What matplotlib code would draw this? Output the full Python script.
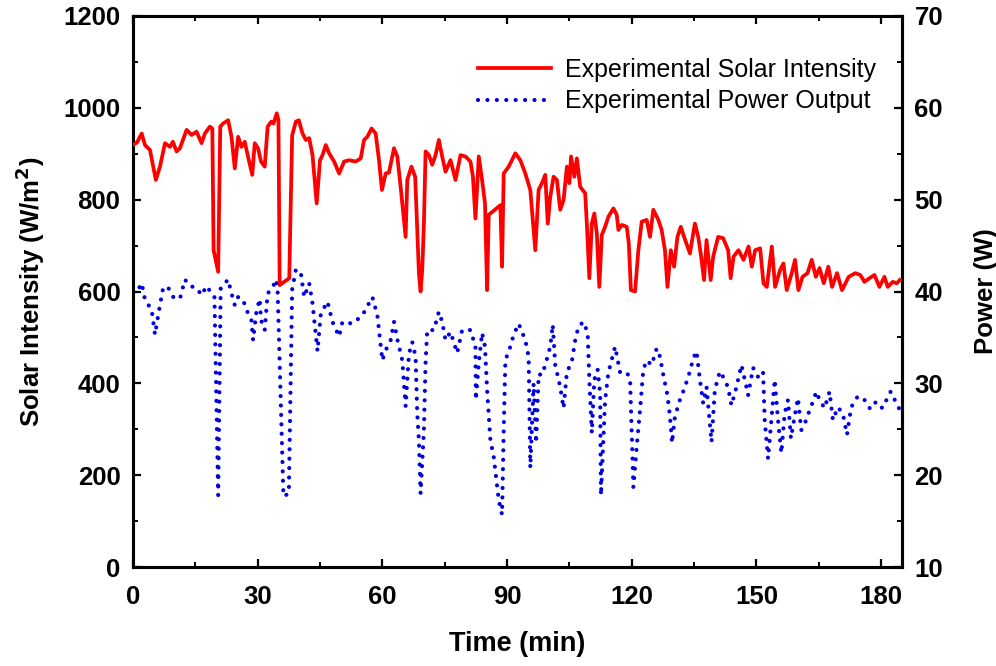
import matplotlib
matplotlib.use("Agg")
import matplotlib.pyplot as plt
from matplotlib.ticker import MultipleLocator

plt.rcParams['font.family'] = ['Liberation Sans', 'DejaVu Sans']

# solar intensity (W/m2) vs time (min)
time_si = [0, 1.0, 2.1, 2.9, 4.1, 5.5, 6.5, 7.7, 8.9, 9.6, 10.5, 11.3, 12.9, 14.1, 15.3,
           16.5, 17.3, 18.5, 19.1, 19.4, 20.5, 21.0, 21.7, 22.9, 23.7, 24.5, 25.3, 26.1,
           26.9, 27.6, 28.7, 29.3, 30.1, 30.8, 31.7, 32.4, 33.3, 33.8, 34.6, 35.0, 35.3,
           37.6, 38.3, 39.2, 39.9, 40.8, 41.6, 42.4, 43.2, 44.2, 45.0, 45.6, 46.4, 47.2,
           48.4, 49.6, 50.8, 52.0, 53.6, 54.8, 55.6, 56.4, 57.4, 58.4, 59.2, 59.9, 60.8,
           61.6, 62.8, 63.6, 64.4, 65.6, 66.0, 67.0, 67.9, 68.4, 68.8, 69.2, 69.6, 70.0,
           70.4, 71.2, 72.0, 72.8, 73.6, 74.4, 75.2, 76.4, 77.6, 78.8, 80.0, 81.2, 81.8,
           82.4, 83.2, 84.0, 84.7, 85.2, 85.6, 88.4, 88.8, 89.2, 90.4, 92.0, 93.2, 94.4,
           95.6, 96.8, 97.6, 98.4, 99.2, 99.8, 100.4, 101.2, 102.0, 102.8, 103.6, 104.4,
           105.0, 105.4, 106.2, 106.8, 107.6, 108.8, 109.2, 109.8, 110.4, 111.0, 111.6,
           112.2, 112.8, 113.6, 114.4, 115.6, 116.4, 116.8, 117.6, 118.8, 119.3, 119.8,
           120.8, 121.6, 122.4, 123.6, 124.4, 125.2, 126.4, 127.2, 128.0, 128.6, 129.4,
           130.2, 131.0, 131.8, 132.6, 134.0, 135.2, 136.0, 136.6, 137.4, 138.0, 139.0,
           139.6, 140.8, 142.0, 143.2, 143.8, 144.5, 145.7, 146.9, 148.1, 148.9, 149.7,
           150.9, 151.7, 152.5, 153.7, 154.5, 155.7, 156.5, 157.3, 158.5, 159.3, 160.1,
           161.1, 162.3, 163.3, 164.3, 165.2, 166.2, 167.3, 168.2, 169.4, 170.6, 172.2,
           173.8, 175.0, 176.0, 177.2, 178.4, 179.6, 180.8, 181.6, 182.8, 183.8, 184.5]
solar = [919, 925, 944, 919, 908, 843, 872, 923, 915, 926, 905, 912, 952, 941, 948,
         923, 944, 959, 955, 690, 643, 959, 966, 973, 937, 868, 937, 915,
         926, 897, 854, 923, 912, 883, 872, 959, 970, 966, 988, 973, 614,
         629, 940, 970, 973, 944, 930, 934, 897, 792, 886, 897, 919, 901,
         883, 857, 883, 886, 883, 890, 930, 937, 955, 944, 886, 821, 857,
         859, 912, 894, 828, 719, 843, 872, 850, 734, 640, 600, 647, 748,
         905, 897, 876, 897, 930, 894, 861, 886, 843, 897, 894, 883, 850,
         759, 894, 843, 792, 603, 767, 788, 654, 857, 872, 901, 886, 857,
         821, 690, 821, 836, 854, 748, 806, 850, 843, 778, 799, 872,
         836, 894, 850, 890, 828, 814, 748, 629, 748, 770, 727,
         610, 723, 741, 763, 781, 767, 734, 745, 741, 705, 603,
         600, 690, 752, 756, 719, 778, 756, 734, 690, 610, 690,
         654, 719, 741, 719, 683, 748, 719, 683, 625, 712, 625,
         676, 719, 716, 690, 629, 676, 690, 669, 698, 654, 690,
         694, 618, 610, 698, 610, 647, 661, 603, 640, 669, 603,
         632, 640, 669, 632, 651, 618, 654, 610, 640, 603, 632,
         640, 636, 621, 629, 636, 610, 632, 610, 621, 618, 625]

# power output (W) vs time (min)
time_p = [0, 1.0, 2.1, 2.9, 4.5, 5.3, 6.1, 7.3, 8.5, 9.7, 11.3, 12.5, 13.7, 15.3, 16.5,
          17.7, 18.9, 19.6, 20.5, 21.1, 22.1, 22.9, 23.7, 24.5, 25.3, 26.5, 27.3, 28.5,
          28.9, 29.7, 30.5, 30.8, 31.7, 32.4, 33.3, 34.5, 34.8, 36.2, 37.5, 38.3, 39.2,
          40.4, 41.2, 42.4, 43.2, 44.4, 45.2, 46.8, 48.0, 49.6, 50.4, 52.8, 55.2, 57.6,
          58.8, 60.0, 60.8, 62.0, 62.8, 63.6, 64.8, 65.6, 66.4, 67.2, 68.0, 68.4, 68.8,
          69.2, 70.0, 70.4, 70.8, 72.4, 73.6, 74.4, 75.2, 76.4, 78.0, 79.2, 81.2, 82.4,
          82.5, 83.2, 84.0, 84.7, 85.2, 86.0, 86.8, 88.0, 88.8, 89.2, 89.6, 90.8, 91.6,
          92.8, 94.4, 95.2, 95.6, 96.4, 97.0, 97.6, 98.4, 99.2, 100.4, 101.0, 101.6,
          102.8, 103.6, 104.4, 105.6, 106.4, 107.2, 108.4, 109.4, 109.8, 110.4, 111.0,
          111.8, 112.4, 112.6, 113.6, 114.4, 116.0, 117.2, 118.8, 119.6, 120.4, 121.2,
          122.0, 122.8, 123.6, 124.8, 126.0, 126.8, 127.6, 128.6, 129.2, 129.7, 130.4,
          131.6, 132.8, 134.0, 134.8, 135.6, 136.4, 137.2, 138.0, 139.2, 140.0, 141.2,
          142.4, 143.2, 144.0, 145.2, 146.4, 147.6, 148.0, 149.2, 150.4, 151.6, 152.0,
          152.8, 153.6, 154.4, 155.2, 156.0, 156.8, 157.6, 158.3, 159.2, 160.0, 160.8,
          162.0, 162.8, 163.6, 164.4, 165.2, 166.4, 167.6, 168.4, 169.6, 170.8, 171.8,
          172.8, 174.4, 176.0, 177.4, 178.8, 180.3, 182.3, 183.5, 184.5]
power = [40.2, 40.0, 40.9, 39.1, 38.0, 35.3, 37.5, 40.5, 40.4, 39.4, 39.2, 41.3, 40.6, 40.4, 39.6,
         40.6, 39.8, 39.5, 17.8, 40.3, 40.9, 41.3, 39.8, 38.5, 39.4, 39.1, 38.0, 36.9,
         34.7, 37.8, 39.2, 36.9, 35.8, 39.8, 40.2, 41.3, 40.2, 17.7, 18.0, 40.2, 42.4,
         42.0, 39.4, 40.9, 38.7, 33.5, 37.6, 38.9, 36.7, 35.1, 36.7, 36.5, 37.4, 39.4,
         37.4, 32.5, 33.6, 34.7, 36.7, 34.8, 32.5, 27.5, 33.2, 34.5, 32.9, 26.7, 23.8,
         18.0, 24.9, 32.2, 35.8, 35.8, 37.8, 36.7, 34.7, 35.6, 33.3, 35.8, 35.8, 34.0,
         28.2, 32.2, 35.5, 34.0, 29.3, 23.8, 22.0, 17.3, 15.7, 24.9, 32.5, 34.0, 35.3,
         36.5, 34.7, 32.9, 20.8, 30.0, 23.5, 31.0, 30.9, 32.0, 34.0, 36.4, 32.0,
         29.6, 27.3, 31.2, 32.4, 34.7, 36.2, 36.7, 35.5, 30.4, 24.6, 30.4,
         31.5, 28.9, 17.8, 28.2, 31.2, 34.0, 31.2, 31.2, 30.5, 18.7, 23.1,
         27.1, 31.5, 32.5, 32.0, 33.8, 32.9, 30.9, 28.7, 26.4, 23.5, 26.4,
         28.2, 29.6, 31.3, 32.7, 33.5, 30.4, 27.8, 29.6, 23.6, 29.3, 31.3,
         30.4, 29.5, 27.6, 29.6, 32.0, 29.6, 28.7, 31.7, 30.7, 31.3, 26.0,
         21.8, 26.0, 30.4, 26.0, 22.4, 26.7, 28.2, 24.0, 26.4, 28.4, 24.9,
         26.0, 27.1, 28.0, 29.1, 28.2, 27.3, 29.1, 26.0, 27.4, 26.7, 24.4,
         27.4, 28.6, 28.2, 27.2, 28.0, 27.3, 29.1, 28.0, 27.1]

fig = plt.figure(figsize=(9.96, 6.66), dpi=100)
ax = fig.add_axes([0.1335, 0.1486, 0.772, 0.8274])
ax2 = ax.twinx()
ax.set_zorder(ax2.get_zorder() + 1)
ax.patch.set_visible(False)

l1, = ax.plot(time_si, solar, color='#ff0000', lw=2.7, zorder=3)
l2, = ax2.plot(time_p, power, color='#0000e0', lw=3.0,
               linestyle=(0, (0.01, 2.25)), dash_capstyle='round')

ax.set_xlim(0, 185)
ax.set_ylim(0, 1200)
ax2.set_ylim(10, 70)

ax.xaxis.set_major_locator(MultipleLocator(30))
ax.xaxis.set_minor_locator(MultipleLocator(15))
ax.yaxis.set_major_locator(MultipleLocator(200))
ax.yaxis.set_minor_locator(MultipleLocator(100))
ax2.yaxis.set_major_locator(MultipleLocator(10))
ax2.yaxis.set_minor_locator(MultipleLocator(5))

for a in (ax, ax2):
    for s in a.spines.values():
        s.set_linewidth(2.2)
    a.tick_params(which='major', direction='in', length=6, width=1.6, labelsize=18.5)
    a.tick_params(which='minor', direction='in', length=3.5, width=1.4)
    for lab in a.get_xticklabels() + a.get_yticklabels():
        lab.set_fontweight('bold')

ax.tick_params(which='both', top=True, right=False)
ax.tick_params(axis='x', pad=13)
ax.tick_params(axis='y', pad=9)
ax2.tick_params(axis='y', pad=9)

ax.set_xlabel('Time (min)', fontsize=19.5, fontweight='bold', labelpad=16)
ax.set_ylabel('Solar Intensity (W/m$^\\mathbf{2}$)', fontsize=18.5, fontweight='bold', labelpad=12)
ax2.set_ylabel('Power (W)', fontsize=18.5, fontweight='bold', labelpad=22)

ax.legend([l1, l2], ['Experimental Solar Intensity', 'Experimental Power Output'],
          loc='upper right', bbox_to_anchor=(0.995, 0.965), frameon=False,
          fontsize=18, handlelength=2.9, handletextpad=0.55, labelspacing=0.3)

fig.savefig('out.png', dpi=100)
